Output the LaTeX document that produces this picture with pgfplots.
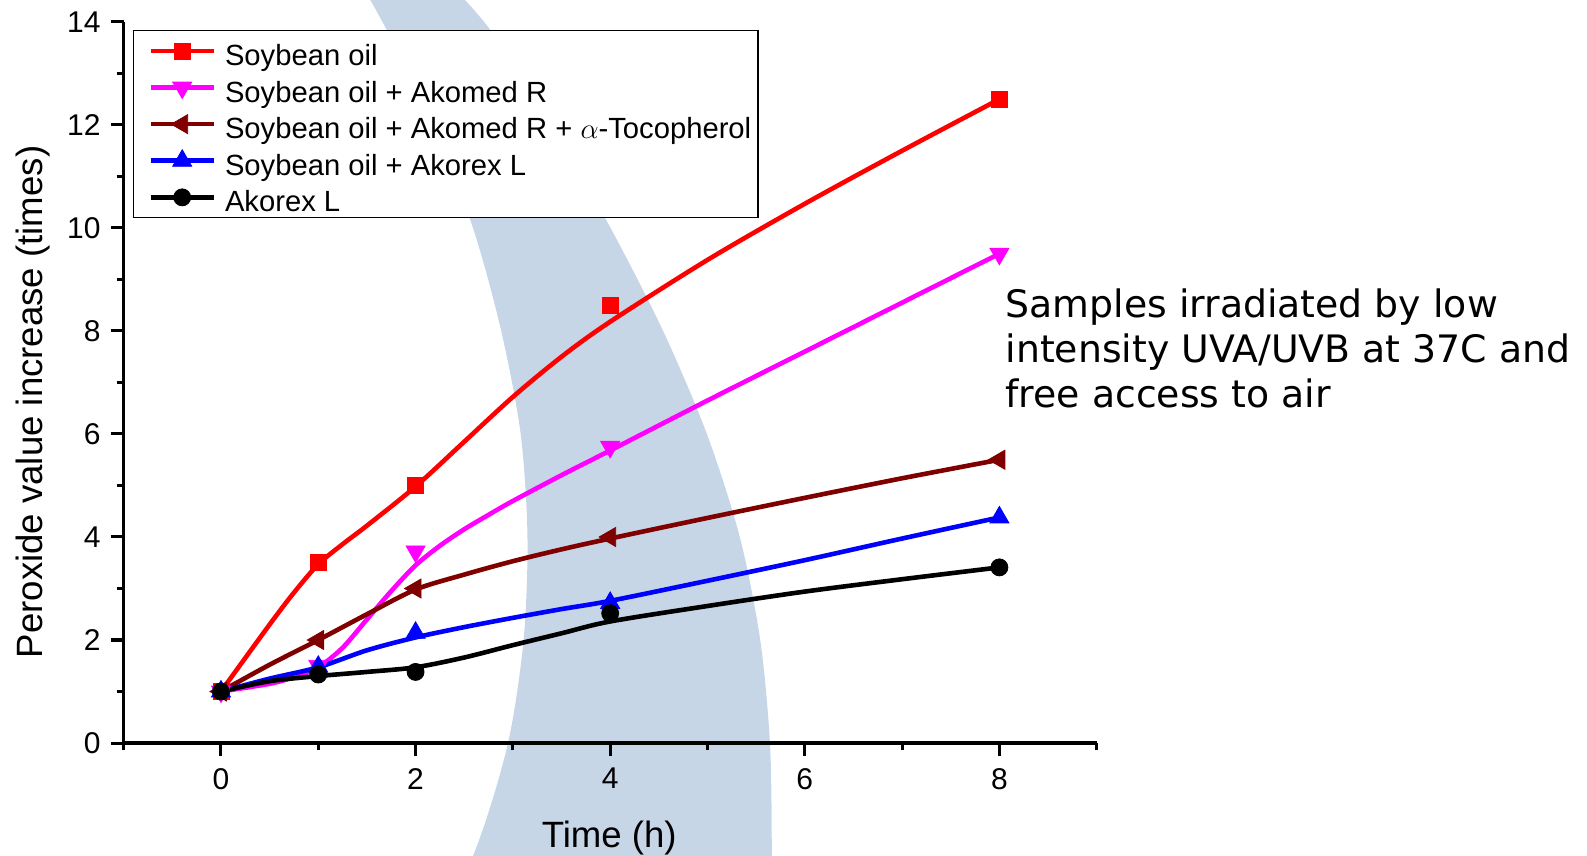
\documentclass[border=0pt]{standalone}
\usepackage{fontspec}
\setmainfont{Liberation Sans}
\newfontfamily\annofont{DejaVu Sans}
\usepackage{pgfplots}
\pgfplotsset{compat=1.18}

\definecolor{bandblue}{RGB}{198,214,231}
\definecolor{darkred}{RGB}{128,0,0}
\definecolor{mag}{RGB}{255,0,255}

% legend sample: line with the mark in the middle
\pgfplotsset{
  lgd/.style={legend image code/.code={
    \path (0pt,0pt);
    \draw[sharp plot, mark repeat=2, mark phase=2]
      plot coordinates {(4.5pt,0pt) (20.25pt,0pt) (36pt,0pt)};}},
  curve/.style={line width=2.3pt, smooth, tension=0.5, forget plot, mark=none},
  pts/.style={only marks, line width=2.3pt, lgd},
}

\begin{document}
\begin{tikzpicture}
\begin{axis}[
  scale only axis,
  width=486.5pt, height=360.5pt,
  xmin=-1, xmax=9, ymin=0, ymax=14,
  axis lines*=left,
  tick pos=left,
  axis line style={line width=1.6pt},
  xtick={0,2,4,6,8}, ytick={0,2,...,14},
  minor xtick={-1,1,3,5,7,9}, minor ytick={1,3,...,13},
  tick align=outside,
  major tick length=6.5pt, minor tick length=3.5pt,
  every tick/.style={black, line width=1.5pt},
  /pgf/number format/assume math mode=true,
  tick label style={font=\fontsize{15}{17}\selectfont},
  xticklabel style={yshift=-2.5pt},
  yticklabel style={xshift=-1.5pt},
  xlabel={Time (h)},
  ylabel={Peroxide value increase (times)},
  label style={font=\fontsize{18.3}{21}\selectfont},
  xlabel style={at={(axis description cs:0.499,-0.132)}, anchor=center},
  ylabel style={at={(axis description cs:-0.0935,0.473)}, anchor=center},
  clip=false, axis on top,
  legend cell align=left,
  legend style={
    at={(axis description cs:0.00925,0.989)}, anchor=north west,
    draw=black, line width=0.75pt, fill=white,
    font=\fontsize{14.6}{17}\selectfont,
    inner xsep=3pt, inner ysep=1pt,
    row sep=0pt, column sep=4pt,
    nodes={inner sep=0.5pt, text height=15.95pt, text depth=1.35pt},
  },
]

% background band (decoration behind the plot)
\addplot[draw=none, fill=bandblue, smooth, tension=0.5, forget plot] coordinates {
  (0.45,18) (1.05,16) (1.66,14) (2.18,12) (2.59,10) (2.88,8) (3.08,6)
  (3.15,4) (3.11,2) (2.95,0) (2.63,-2) (2.15,-4) (1.55,-6)
  (5.66,-6) (5.66,-4) (5.661,-2) (5.642,0) (5.542,2) (5.332,4) (4.994,6)
  (4.544,8) (4.004,10) (3.40,12) (2.705,14) (1.70,16) (0.70,18)
};

% Soybean oil
\addplot[red, curve] table {
x y
0 1
0.5 2.3
0.75 2.92
1 3.47
1.25 3.86
1.5 4.22
2 4.98
2.5 5.85
3 6.72
3.5 7.5
4 8.18
5 9.38
6 10.47
7 11.5
8 12.5
};
\addplot[red, pts, mark=square*, mark size=4pt, mark options={line width=0.4pt}] table {
x y
0 1
1 3.5
2 5.0
4 8.5
8 12.5
};
\addlegendentry{Soybean oil}

% Soybean oil + Akomed R
\addplot[mag, curve] table {
x y
0 1
0.5 1.15
0.75 1.28
1 1.47
1.25 1.85
1.5 2.4
1.75 2.95
2 3.45
2.25 3.83
2.5 4.15
2.75 4.43
3 4.7
3.5 5.2
4 5.68
5 6.65
6 7.6
7 8.55
8 9.5
};
\addplot[mag, pts, mark=triangle*, mark size=5.5pt, mark options={line width=0.4pt, rotate=180}] table {
x y
0 1
1 1.5
2 3.72
4 5.75
8 9.5
};
\addlegendentry{Soybean oil + Akomed R}

% Soybean oil + Akomed R + alpha-Tocopherol
\addplot[darkred, curve] table {
x y
0 1
0.5 1.52
1 2.0
1.5 2.5
2 2.98
2.5 3.27
3 3.53
3.5 3.76
4 3.97
5 4.37
6 4.76
7 5.14
8 5.5
};
\addplot[darkred, pts, mark=triangle*, mark size=5.5pt, mark options={line width=0.4pt, rotate=90}] table {
x y
0 1
1 2.0
2 3.0
4 4.0
8 5.5
};
\addlegendentry{Soybean oil + Akomed R + $\alpha$-Tocopherol}

% Soybean oil + Akorex L
\addplot[blue, curve] table {
x y
0 1
0.5 1.25
1 1.47
1.5 1.8
2 2.05
2.5 2.25
3 2.43
3.5 2.6
4 2.76
5 3.15
6 3.55
7 3.97
8 4.38
};
\addplot[blue, pts, mark=triangle*, mark size=5.5pt, mark options={line width=0.4pt}] table {
x y
0 1
1 1.48
2 2.14
4 2.72
8 4.38
};
\addlegendentry{Soybean oil + Akorex L}

% Akorex L
\addplot[black, curve] table {
x y
0 1
0.5 1.2
1 1.3
1.5 1.38
2 1.47
2.5 1.66
3 1.9
3.5 2.13
4 2.36
5 2.66
6 2.94
7 3.18
8 3.41
};
\addplot[black, pts, mark=*, mark size=4.25pt, mark options={line width=0.4pt}] table {
x y
0 1
1 1.33
2 1.38
4 2.52
8 3.41
};
\addlegendentry{Akorex L}

\node[anchor=north west, inner sep=0pt, align=left,
      font=\annofont\fontsize{18.9}{22.5}\selectfont]
  at (axis cs:8.06,8.82)
  {Samples irradiated by low\\intensity UVA/UVB at 37C and\\free access to air};

\coordinate (bbSW) at (axis cs:-2.271,-2.175);
\coordinate (bbNE) at (axis cs:14.039,14.427);
\end{axis}
\pgfresetboundingbox
\path[use as bounding box] (bbSW) rectangle (bbNE);
\end{tikzpicture}
\end{document}
